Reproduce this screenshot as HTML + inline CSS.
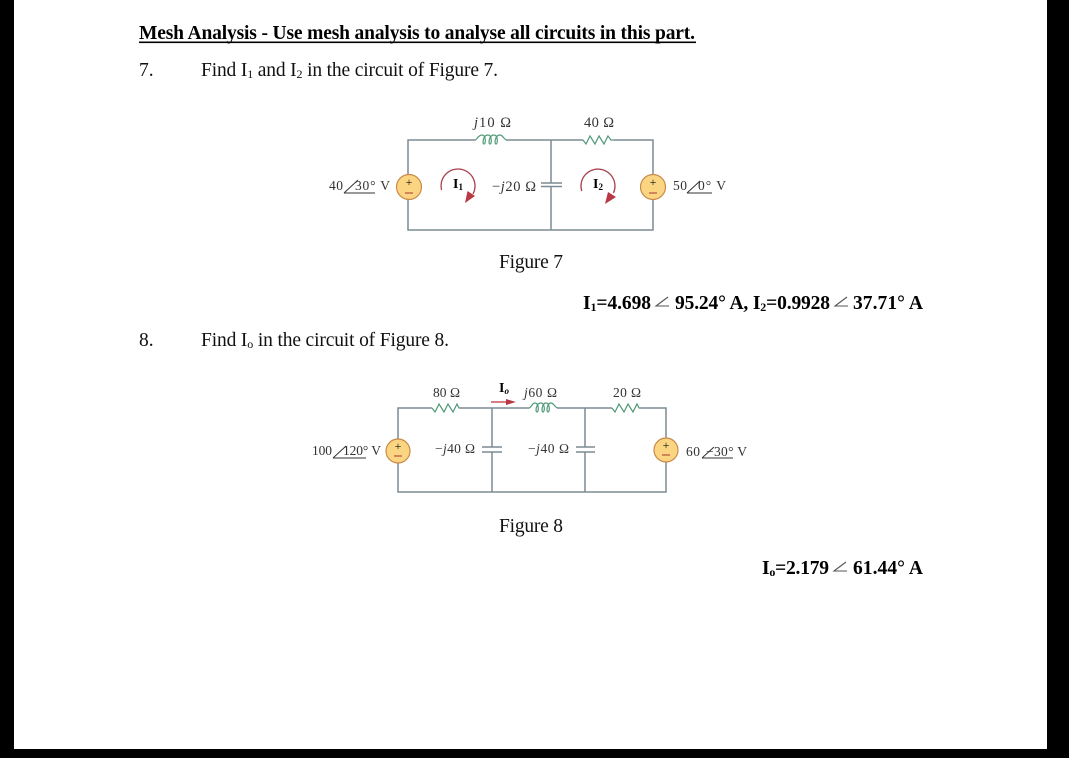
<!DOCTYPE html>
<html><head><meta charset="utf-8"><style>
html,body{margin:0;padding:0;background:#fff;width:1069px;height:758px;overflow:hidden}
svg{display:block}
text{font-family:"Liberation Serif",serif;fill:#111}
.b{font-weight:bold;fill:#000}
.d{font-size:19.5px;fill:#111}
.c{font-size:14.500px;fill:#333}
.e{font-size:13.500px;fill:#333}
.w{stroke:#7d8c94;stroke-width:1.5;fill:none}
.g{stroke:#4f9a78;stroke-width:1.2;fill:none}
.s{fill:#fbd581;stroke:#c98a4a;stroke-width:1.2}
.m{stroke:#a8404c;stroke-width:1.3;fill:none}
.r{fill:#b83844}
.a{stroke:#333;stroke-width:1;fill:none}
.ab{stroke:#555;stroke-width:1.1;fill:none}
</style></head><body>
<svg width="1069" height="758" viewBox="0 0 1069 758" xmlns="http://www.w3.org/2000/svg">
<rect width="1069" height="758" fill="#fff"/>
<rect x="0" y="0" width="14" height="758" fill="#000"/>
<rect x="1047" y="0" width="22" height="758" fill="#000"/>
<rect x="0" y="749" width="1069" height="9" fill="#000"/>

<!-- Heading -->
<text class="b" x="139" y="39" font-size="19.5" textLength="556" lengthAdjust="spacing">Mesh Analysis - Use mesh analysis to analyse all circuits in this part.</text>
<rect x="139" y="41.5" width="557" height="1.6" fill="#000"/>
<text class="d" x="139" y="76">7.</text>
<text class="d" x="201" y="76" textLength="297" lengthAdjust="spacing">Find I<tspan font-size="12" dy="2">1</tspan><tspan dy="-2"> and I</tspan><tspan font-size="12" dy="2">2</tspan><tspan dy="-2"> in the circuit of Figure 7.</tspan></text>

<!-- Figure 7 -->
<path class="w" d="M475 140H408V175M408 200V230H653V200M653 175V140H614M583 140H506M551 140V183M551 186.500V230"/>
<path class="w" d="M541 183H562M541 186.500H562"/>
<path class="g" d="M475 140C477 140 478 135 482 135C486 135 486 144 484 144C482 144 483 135 488 135C492 135 492 144 490 144C488 144 489 135 494 135C498 135 498 144 496 144C494 144 495 135 500 135C503 135 504 140 507 140"/>
<path class="g" d="M583 140l3 4 4-8 5 8 4-8 5 8 4-8 3 4h3"/>
<circle class="s" cx="409" cy="187" r="12.500"/>
<text x="409" y="186" text-anchor="middle" font-size="12" fill="#a33">+</text>
<path d="M405 193H413" stroke="#a33" stroke-width="1"/>
<circle class="s" cx="653" cy="187" r="12.500"/>
<text x="653" y="186" text-anchor="middle" font-size="12" fill="#a33">+</text>
<path d="M649 193H657" stroke="#a33" stroke-width="1"/>
<text class="e" x="329" y="190" textLength="14">40</text>
<path class="a" d="M344 193L358 180M344 193H375"/>
<text class="e" x="355" y="190" textLength="35">30° V</text>
<text class="e" x="673" y="190" textLength="14">50</text>
<path class="a" d="M687 193L700 181M687 193H712"/>
<text class="e" x="698" y="190" textLength="28">0° V</text>
<text class="c" x="474" y="127" textLength="37"><tspan font-style="italic">j</tspan>10 Ω</text>
<text class="c" x="584" y="127" textLength="30">40 Ω</text>
<text class="c" x="492" y="191" textLength="44">−<tspan font-style="italic">j</tspan>20 Ω</text>
<path class="m" d="M441.500 190A17 17 0 1 1 473 194"/>
<path class="r" d="M465 203L467.500 191 475 196Z"/>
<text class="b" x="453" y="188" font-size="14">I<tspan font-size="9" dy="2">1</tspan></text>
<path class="m" d="M581.700 191A17 17 0 1 1 613.500 193"/>
<path class="r" d="M605 204L608 192 616 197Z"/>
<text class="b" x="593" y="188" font-size="14">I<tspan font-size="9" dy="2">2</tspan></text>

<text class="d" x="499" y="268" textLength="64">Figure 7</text>

<!-- Answer 1 -->
<text class="b" x="583" y="309" font-size="19.5" textLength="68">I<tspan font-size="12" dy="2">1</tspan><tspan dy="-2">=4.698</tspan></text>
<path class="ab" d="M668 297L656 306H669"/>
<text class="b" x="675" y="309" font-size="19.5" textLength="155">95.24° A, I<tspan font-size="12" dy="2">2</tspan><tspan dy="-2">=0.9928</tspan></text>
<path class="ab" d="M847 297L835 306H848"/>
<text class="b" x="853" y="309" font-size="19.5" textLength="70">37.71° A</text>

<text class="d" x="139" y="346">8.</text>
<text class="d" x="201" y="346" textLength="248">Find I<tspan font-size="12" dy="2">o</tspan><tspan dy="-2"> in the circuit of Figure 8.</tspan></text>

<!-- Figure 8 -->
<path class="w" d="M432 408H398V439M398 463V492H666V462M666 438V408H641M612 408H557M529 408H460M492 408V447M492 452V492M585 408V447M585 452V492"/>
<path class="w" d="M482 447H502M482 452H502M576 447H595M576 452H595"/>
<path class="g" d="M432 408l3 4 4-8 5 8 4-8 5 8 4-8 2 4h1"/>
<path class="g" d="M612 408l3 4 4-8 5 8 4-8 5 8 4-8 2 4h2"/>
<path class="g" d="M529 408C531 408 532 403 535 403C539 403 539 412 537 412C535 412 536 403 541 403C545 403 545 412 543 412C541 412 542 403 546 403C550 403 550 412 548 412C546 412 547 403 551 403C554 403 555 408 558 408"/>
<circle class="s" cx="398" cy="451" r="12"/>
<text x="398" y="450" text-anchor="middle" font-size="12" fill="#a33">+</text>
<path d="M394 456H402" stroke="#a33" stroke-width="1"/>
<circle class="s" cx="666" cy="450" r="12"/>
<text x="666" y="449" text-anchor="middle" font-size="12" fill="#a33">+</text>
<path d="M662 455H670" stroke="#a33" stroke-width="1"/>
<text class="e" x="312" y="455" textLength="20">100</text>
<path class="a" d="M333 458L346 446M333 458H366"/>
<text class="e" x="343" y="455" textLength="38">120° V</text>
<text class="e" x="686" y="456" textLength="14">60</text>
<path class="a" d="M702 458L714 447M702 458H733"/>
<text class="e" x="706" y="456" textLength="41">−30° V</text>
<text class="e" x="433" y="397" textLength="27">80 Ω</text>
<text class="e" x="613" y="397" textLength="28">20 Ω</text>
<text class="e" x="524" y="397" textLength="33"><tspan font-style="italic">j</tspan>60 Ω</text>
<text class="e" x="435" y="453" textLength="40">−<tspan font-style="italic">j</tspan>40 Ω</text>
<text class="e" x="528" y="453" textLength="41">−<tspan font-style="italic">j</tspan>40 Ω</text>
<text class="b" x="499" y="392" font-size="14">I<tspan font-size="9" dy="2" font-style="italic">o</tspan></text>
<path d="M491 402H510" stroke="#c0303c" stroke-width="1.200"/>
<path class="r" d="M516 402L506 399V405Z"/>

<text class="d" x="499" y="532" textLength="64">Figure 8</text>

<!-- Answer 2 -->
<text class="b" x="762" y="574" font-size="19.5" textLength="67">I<tspan font-size="12" dy="2">o</tspan><tspan dy="-2">=2.179</tspan></text>
<path class="ab" d="M846 562L834 571H847"/>
<text class="b" x="853" y="574" font-size="19.5" textLength="70">61.44° A</text>
</svg>
</body></html>
